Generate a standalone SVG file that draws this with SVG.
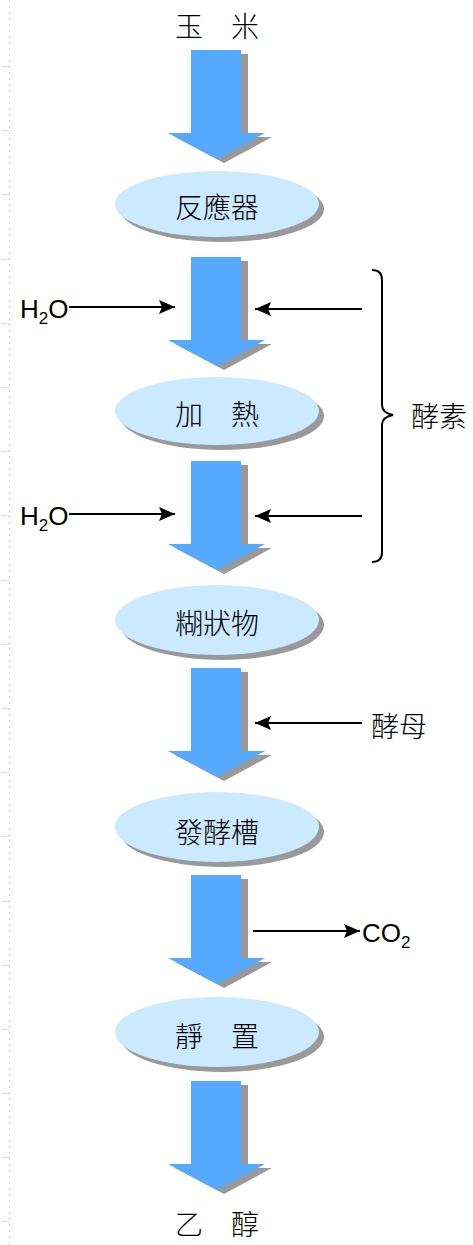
<svg xmlns="http://www.w3.org/2000/svg" width="473" height="1245" viewBox="0 0 473 1245">
<style>
.cjk{font-family:"Noto Sans CJK TC","Noto Sans CJK SC",sans-serif;font-size:28px;fill:#000;text-anchor:middle;dominant-baseline:central;font-weight:300}
.lat{font-family:"Liberation Sans",Arial,sans-serif;font-size:26px;fill:#000}
.blk{fill:#55aaff}
.sh{fill:#999999}
.ell{fill:#cceaff}
.con{stroke:#000;stroke-width:2;fill:none}
.guide{stroke:#c4ccf2;stroke-width:1;fill:none}
</style>
<defs>
<path id="barrow" d="M191,0 H241 V83 H265 L217,109 L168,83 H191 Z"/>
<marker id="ah" markerUnits="userSpaceOnUse" markerWidth="17" markerHeight="15" refX="16" refY="7" orient="auto">
<path d="M0,0 L16,7 L0,14 L3,7 Z" fill="#000"/>
</marker>
</defs>
<rect width="473" height="1245" fill="#fff"/>
<g id="guide">
<line class="guide" x1="9.5" y1="0" x2="9.5" y2="1245" stroke-dasharray="2 4"/>
<path class="guide" stroke-dasharray="2 1" d="M2,66.5H9 M2,130.5H9 M2,194.5H9 M2,259.5H9 M2,323.5H9 M2,387.5H9 M2,451.5H9 M2,515.5H9 M2,580.5H9 M2,644.5H9 M2,708.5H9 M2,772.5H9 M2,836.5H9 M2,901.5H9 M2,965.5H9 M2,1029.5H9 M2,1093.5H9 M2,1157.5H9 M2,1221.5H9"/>
</g>
<g id="flow-arrows">
<use href="#barrow" class="sh" transform="translate(7,54)"/>
<use href="#barrow" class="blk" transform="translate(0,50)"/>
<use href="#barrow" class="sh" transform="translate(7,261)"/>
<use href="#barrow" class="blk" transform="translate(0,257)"/>
<use href="#barrow" class="sh" transform="translate(7,465)"/>
<use href="#barrow" class="blk" transform="translate(0,461)"/>
<use href="#barrow" class="sh" transform="translate(7,672)"/>
<use href="#barrow" class="blk" transform="translate(0,668)"/>
<use href="#barrow" class="sh" transform="translate(7,879)"/>
<use href="#barrow" class="blk" transform="translate(0,875)"/>
<use href="#barrow" class="sh" transform="translate(7,1085)"/>
<use href="#barrow" class="blk" transform="translate(0,1081)"/>
</g>
<g id="n-corn"><text class="cjk" x="217" y="25" font-size="29">玉　米</text></g>
<g id="n-reactor">
<ellipse class="sh" cx="222" cy="209" rx="102" ry="33"/>
<ellipse class="ell" cx="217" cy="204" rx="102" ry="33"/>
<text class="cjk" x="217" y="206">反應器</text>
</g>
<g id="n-heat">
<ellipse class="sh" cx="222" cy="416" rx="102" ry="34"/>
<ellipse class="ell" cx="217" cy="411" rx="102" ry="34"/>
<text class="cjk" x="217" y="413">加　熱</text>
</g>
<g id="n-paste">
<ellipse class="sh" cx="222" cy="625" rx="102" ry="35"/>
<ellipse class="ell" cx="217" cy="620" rx="102" ry="35"/>
<text class="cjk" x="217" y="622">糊狀物</text>
</g>
<g id="n-ferment">
<ellipse class="sh" cx="222" cy="832" rx="102" ry="35"/>
<ellipse class="ell" cx="217" cy="827" rx="102" ry="35"/>
<text class="cjk" x="217" y="831">發酵槽</text>
</g>
<g id="n-settle">
<ellipse class="sh" cx="222" cy="1037" rx="102" ry="35"/>
<ellipse class="ell" cx="217" cy="1032" rx="102" ry="35"/>
<text class="cjk" x="217" y="1035">靜　置</text>
</g>
<g id="n-ethanol"><text class="cjk" x="217" y="1223">乙　醇</text></g>
<g id="n-h2o-1"><text class="lat" x="20" y="318">H<tspan font-size="17" dy="6">2</tspan><tspan dy="-6">O</tspan></text></g>
<g id="n-h2o-2"><text class="lat" x="20" y="525">H<tspan font-size="17" dy="6">2</tspan><tspan dy="-6">O</tspan></text></g>
<g id="n-enzyme"><text class="cjk" x="439" y="415">酵素</text></g>
<g id="n-yeast"><text class="cjk" x="399" y="725">酵母</text></g>
<g id="n-co2"><text class="lat" x="362" y="942">CO<tspan font-size="17" dy="6">2</tspan></text></g>
<g id="connectors">
<line class="con" x1="69" y1="307" x2="175" y2="307" marker-end="url(#ah)"/>
<line class="con" x1="362" y1="309" x2="255" y2="309" marker-end="url(#ah)"/>
<line class="con" x1="69" y1="514" x2="175" y2="514" marker-end="url(#ah)"/>
<line class="con" x1="362" y1="516" x2="255" y2="516" marker-end="url(#ah)"/>
<line class="con" x1="362" y1="723" x2="255" y2="723" marker-end="url(#ah)"/>
<line class="con" x1="253" y1="931" x2="360" y2="931" marker-end="url(#ah)"/>
<path class="con" d="M372,270 Q382,270 382,280 V405 Q382,413 393,415 Q382,417 382,425 V552 Q382,562 372,562"/>
</g>
</svg>
